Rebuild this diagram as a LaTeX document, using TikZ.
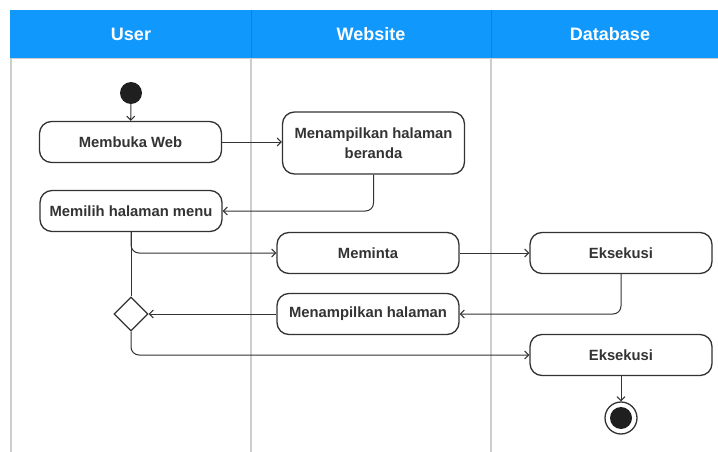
\documentclass[tikz,border=0pt]{standalone}
\usepackage{fontspec}
\setmainfont{Liberation Sans}
\usetikzlibrary{shapes.geometric,arrows.meta}
\definecolor{hdr}{RGB}{16,152,252}
\definecolor{hdrline}{RGB}{40,120,200}
\definecolor{lane}{RGB}{205,205,205}
\definecolor{ink}{RGB}{51,51,51}
\tikzset{
  act/.style={draw=ink, line width=1.3pt, rounded corners=12pt, minimum width=182pt,
    minimum height=41pt, align=center, font=\fontsize{14.8}{20}\selectfont\bfseries, text=ink, inner sep=2pt},
  hdrtext/.style={font=\fontsize{18}{20}\selectfont\bfseries, text=white},
  flow/.style={draw=ink, line width=1pt, -{Straight Barb[length=4pt,width=8pt]}, rounded corners=8pt},
  plain/.style={draw=ink, line width=1pt, rounded corners=8pt},
}
\begin{document}
\begin{tikzpicture}[x=1pt,y=-1pt]
\useasboundingbox[fill=white] (0,0) rectangle (718,452);
% lanes
\fill[hdr] (10,10) rectangle (718,58);
\draw[hdrline, line width=0.8pt] (251,10) -- (251,58) (491,10) -- (491,58);
\draw[lane, line width=1.8pt] (11,58) -- (11,452) (251,58) -- (251,452) (491,58) -- (491,452);
\draw[lane, line width=0.8pt] (10,58.5) -- (718,58.5);
\node[hdrtext] (hu) at (131,34) {User};
\node[hdrtext] (hw) at (371,34) {Website};
\node[hdrtext] (hd) at (610,34) {Database};
% nodes
\node[circle, fill=black!88, minimum size=22pt, inner sep=0pt] (start) at (131,93) {};
\node[act] (buka) at (130.5,142) {Membuka Web};
\node[act, minimum height=62pt] (beranda) at (373.5,143) {Menampilkan halaman\\beranda};
\node[act] (pilih) at (131,211) {Memilih halaman menu};
\node[act] (minta) at (368,253) {Meminta};
\node[act] (eks1) at (621,253) {Eksekusi};
\node[act] (tampil) at (368,314) {Menampilkan halaman};
\node[diamond, draw=ink, line width=1.3pt, fill=white, minimum width=34pt, minimum height=34pt, inner sep=0pt] (dec) at (131,314) {};
\node[act] (eks2) at (621,355) {Eksekusi};
\node[circle, draw=ink, line width=1.3pt, minimum size=32pt, inner sep=0pt] (end) at (621,418) {};
\node[circle, fill=black!88, minimum size=22pt, inner sep=0pt] (endin) at (end) {};
% connectors
\draw[flow] (start) -- (buka);
\draw[flow] (buka) -- (beranda.west |- buka);
\draw[flow] (beranda.south) |- (pilih.east);
\draw[plain] (pilih.south) -- (dec.north);
\draw[flow] (pilih.south) |- (minta.west);
\draw[flow] (minta) -- (eks1);
\draw[flow] (eks1.south) |- (tampil.east);
\draw[flow] (tampil) -- (dec);
\draw[flow] (dec.south) |- (eks2.west);
\draw[flow] (eks2) -- (end);
\end{tikzpicture}
\end{document}
